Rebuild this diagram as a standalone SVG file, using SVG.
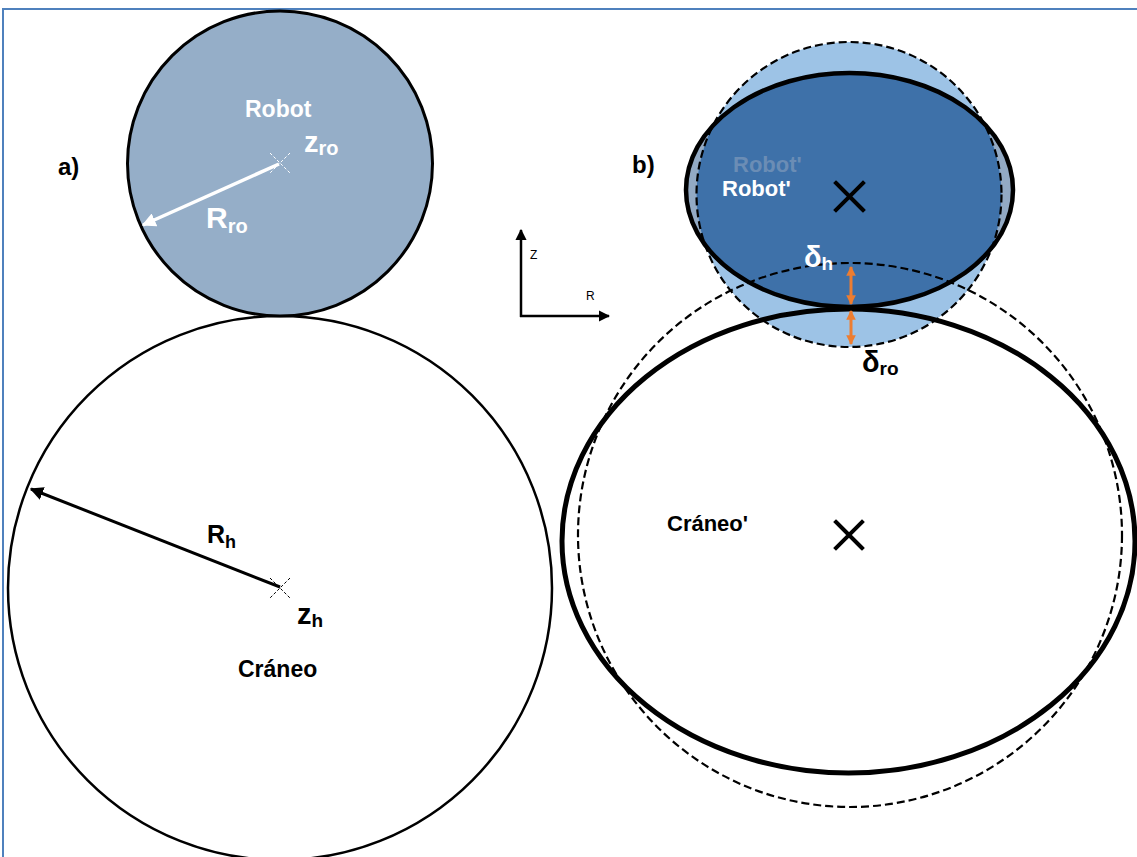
<svg xmlns="http://www.w3.org/2000/svg" width="1137" height="857" viewBox="0 0 1137 857">
<style>
text{font-family:"Liberation Sans",Arial,sans-serif;font-weight:bold}
.w{fill:#ffffff}
.k{fill:#000000}
.dash{fill:none;stroke:#000;stroke-width:2.2;stroke-dasharray:8,4}
.xm{stroke:#000;stroke-width:4;stroke-linecap:square}
.orange{stroke:#ED7D31;stroke-width:3;fill:none}
</style>
<defs>
<marker id="ahW" viewBox="0 0 10 10" refX="9" refY="5" markerWidth="4" markerHeight="4" orient="auto"><path d="M0,0 L10,5 L0,10 z" fill="#fff"/></marker>
<marker id="ahK" viewBox="0 0 10 10" refX="9" refY="5" markerWidth="4.5" markerHeight="4.5" orient="auto"><path d="M0,0 L10,5 L0,10 z" fill="#000"/></marker>
<marker id="ahO" viewBox="0 0 10 10" refX="9" refY="5" markerWidth="3.2" markerHeight="3.2" orient="auto-start-reverse"><path d="M0,0 L10,5 L0,10 z" fill="#ED7D31"/></marker>
<clipPath id="robotClip"><circle cx="849" cy="194.5" r="152.5"/></clipPath>
</defs>
<rect width="1137" height="857" fill="#fff"/>
<path d="M3,857 V9 H1137" fill="none" stroke="#4F81BD" stroke-width="2"/>

<g id="craneo-a">
<circle cx="280" cy="588" r="272" fill="#fff" stroke="#000" stroke-width="2.5"/>
<path d="M270,578 L290,598 M290,578 L270,598" stroke="#000" stroke-width="1" stroke-dasharray="3,2"/>
<text x="238" y="677" font-size="23" class="k">Cráneo</text>
</g>

<g id="robot-a">
<circle cx="280" cy="163.5" r="152.5" fill="#95AEC8" stroke="#000" stroke-width="3"/>
<path d="M270,153 L290,173 M290,153 L270,173" stroke="#fff" stroke-width="1" stroke-dasharray="3,2"/>
<text x="245" y="117" font-size="23" class="w">Robot</text>
</g>

<g id="robot-b">
<ellipse cx="849.5" cy="190" rx="163.5" ry="117" fill="#93AAC4"/>
<circle cx="849" cy="194.5" r="152.5" fill="#9DC3E6"/>
<ellipse cx="849.5" cy="190" rx="163.5" ry="117" fill="#3E71A9" clip-path="url(#robotClip)"/>
<text x="733" y="172" font-size="22" fill="#6B8DB5">Robot'</text>
<circle cx="849" cy="194.5" r="152.5" class="dash"/>
</g>

<g id="craneo-b">
<circle cx="850" cy="535" r="272" class="dash"/>
<ellipse cx="848.5" cy="541" rx="286.5" ry="232" fill="none" stroke="#000" stroke-width="5"/>
<path d="M836,522 L862,548 M862,522 L836,548" class="xm"/>
<text x="667" y="531" font-size="22" class="k">Cráneo'</text>
</g>

<g id="robot-b-outline">
<ellipse cx="849.5" cy="190" rx="163.5" ry="117" fill="none" stroke="#000" stroke-width="4.5"/>
<path d="M836,183 L863,210 M863,183 L836,210" class="xm"/>
<text x="722" y="196" font-size="22" class="w">Robot'</text>
</g>

<g id="connectors">
<line x1="279" y1="164" x2="143" y2="225" stroke="#fff" stroke-width="3.5" marker-end="url(#ahW)"/>
<line x1="280" y1="587" x2="31" y2="489" stroke="#000" stroke-width="3" marker-end="url(#ahK)"/>
<line x1="851" y1="267" x2="851" y2="304" class="orange" marker-start="url(#ahO)" marker-end="url(#ahO)"/>
<line x1="851" y1="311" x2="851" y2="344" class="orange" marker-start="url(#ahO)" marker-end="url(#ahO)"/>
<line x1="521" y1="317" x2="521" y2="230" stroke="#000" stroke-width="2.5" marker-end="url(#ahK)"/>
<line x1="520" y1="316" x2="609" y2="316" stroke="#000" stroke-width="2.5" marker-end="url(#ahK)"/>
</g>

<g id="labels">
<text x="58" y="175" font-size="24" class="k">a)</text>
<text x="632" y="173" font-size="24" class="k">b)</text>
<text x="530" y="259" font-size="12" style="font-weight:normal" class="k">Z</text>
<text x="586" y="300" font-size="12" style="font-weight:normal" class="k">R</text>
<text x="304" y="152" font-size="29" class="w">z<tspan font-size="20" dy="3">ro</tspan></text>
<text x="206" y="228" font-size="30" class="w">R<tspan font-size="20" dy="5">ro</tspan></text>
<text x="207" y="543" font-size="25" class="k">R<tspan font-size="18" dy="5">h</tspan></text>
<text x="297" y="624" font-size="29" class="k">z<tspan font-size="19" dy="3">h</tspan></text>
<text x="804" y="267" font-size="29" class="w">δ<tspan font-size="19" dy="3">h</tspan></text>
<text x="862" y="372" font-size="29" class="k">δ<tspan font-size="19" dy="3">ro</tspan></text>
</g>
</svg>
